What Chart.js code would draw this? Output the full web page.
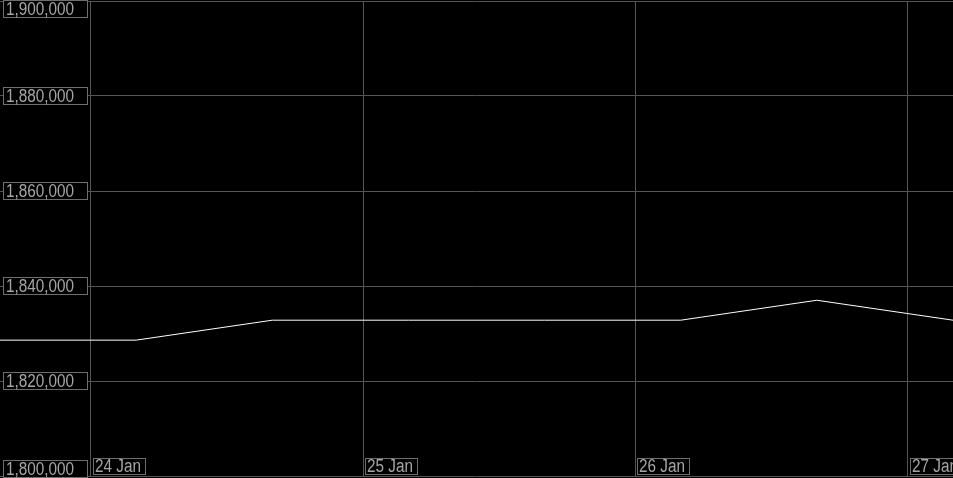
<!DOCTYPE html>
<html>
<head>
<meta charset="utf-8">
<script src="https://cdn.jsdelivr.net/npm/chart.js@4/dist/chart.umd.min.js"></script>
<style>
  html, body { margin: 0; padding: 0; background: #000; }
  #wrap { position: relative; width: 953px; height: 478px; }
</style>
</head>
<body>
<div id="wrap"><canvas id="chart"></canvas></div>
<script>
// hours counted from 24 Jan 00:00
const hours = [-8, 4, 16, 28, 40, 52, 64, 76]
const values = [1828600, 1828600, 1832800, 1832800, 1832800, 1832800, 1837000, 1832800]
const dayTicks = [0, 24, 48, 72]
const dayLabels = ["24 Jan", "25 Jan", "26 Jan", "27 Jan"]
const yMin = 1800000
const yMax = 1900000
const yStep = 20000

const FONT = "18px 'Liberation Sans', Arial, sans-serif"
const SQUEEZE = 0.85
const TEXT_COLOR = "#a6a6a6"
const BOX_COLOR = "#6e6e6e"

// condensed text: draw with a horizontal squeeze
function narrowText(ctx, text, x, y) {
  ctx.save()
  ctx.translate(x, y)
  ctx.scale(SQUEEZE, 1)
  ctx.fillText(text, 0, 0)
  ctx.restore()
}

// draws the boxed tick labels on top of the plot
const boxedLabels = {
  id: "boxedLabels",
  afterDraw(chart) {
    const ctx = chart.ctx
    const xs = chart.scales.x
    const ys = chart.scales.y
    const H = chart.height
    ctx.save()
    ctx.font = FONT
    ctx.textBaseline = "alphabetic"
    ctx.lineWidth = 1

    ys.ticks.forEach((t) => {
      const py = ys.getPixelForValue(t.value)
      let top = Math.round(py) - 9
      if (top < 0) top = 0
      if (top + 18 > H) top = H - 18
      ctx.fillStyle = "#000"
      ctx.fillRect(3, top, 84, 17)
      ctx.strokeStyle = BOX_COLOR
      ctx.strokeRect(3.5, top + 0.5, 84, 17)
      ctx.fillStyle = TEXT_COLOR
      narrowText(ctx, t.value.toLocaleString("en-US"), 6, top + 15)
    })

    xs.ticks.forEach((t, i) => {
      const px = Math.round(xs.getPixelForValue(t.value))
      const label = dayLabels[i]
      const w = Math.ceil(ctx.measureText(label).width * SQUEEZE) + 6
      ctx.fillStyle = "#000"
      ctx.fillRect(px + 2, 458, w, 16)
      ctx.strokeStyle = BOX_COLOR
      ctx.strokeRect(px + 2.5, 458.5, w, 16)
      ctx.fillStyle = TEXT_COLOR
      narrowText(ctx, label, px + 4, 472)
    })
    ctx.restore()
  },
}

new Chart(document.getElementById("chart"), {
  type: "line",
  data: {
    datasets: [
      {
        data: hours.map((h, i) => ({ x: h, y: values[i] })),
        borderColor: "#ffffff",
        borderWidth: 1,
        pointRadius: 0,
        tension: 0,
        fill: false,
      },
    ],
  },
  options: {
    responsive: true,
    maintainAspectRatio: false,
    animation: false,
    layout: { padding: { top: 1, bottom: 2, left: 0, right: 0 } },
    plugins: { legend: { display: false }, tooltip: { enabled: false } },
    scales: {
      x: {
        type: "linear",
        min: hours[0],
        max: hours[hours.length - 1],
        afterBuildTicks: (scale) => {
          scale.ticks = dayTicks.map((v) => ({ value: v }))
        },
        ticks: { display: false },
        grid: { color: "#555", lineWidth: 1, drawTicks: false },
        border: { display: false },
      },
      y: {
        min: yMin,
        max: yMax,
        ticks: { display: false, stepSize: yStep },
        grid: { color: "#555", lineWidth: 1, drawTicks: false },
        border: { display: false },
      },
    },
  },
  plugins: [boxedLabels],
})
</script>
</body>
</html>
